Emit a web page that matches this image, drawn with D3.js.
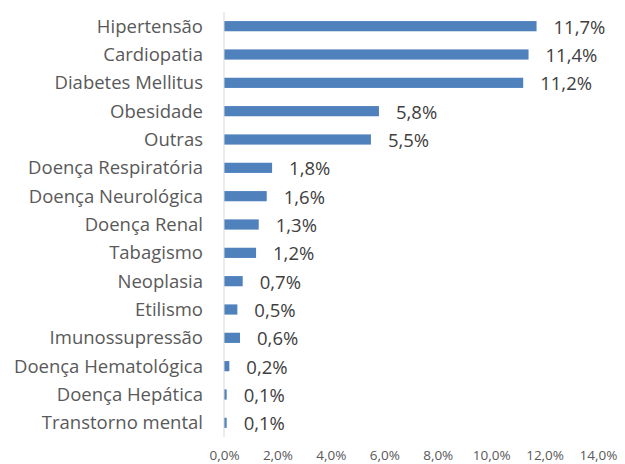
<!DOCTYPE html>
<html>
<head>
<meta charset="utf-8">
<script src="https://cdn.jsdelivr.net/npm/d3@7"></script>
<style>
  body { margin: 0; background: #fff; }
  text { font-family: "Open Sans", sans-serif; }
</style>
</head>
<body>
<div id="chart"></div>
<script>
// comorbidades (%)
var categories = ["Hipertensão", "Cardiopatia", "Diabetes Mellitus", "Obesidade", "Outras",
	"Doença Respiratória", "Doença Neurológica", "Doença Renal", "Tabagismo", "Neoplasia",
	"Etilismo", "Imunossupressão", "Doença Hematológica", "Doença Hepática", "Transtorno mental"];
var values = [11.7, 11.4, 11.2, 5.8, 5.5, 1.8, 1.6, 1.3, 1.2, 0.7, 0.5, 0.6, 0.2, 0.1, 0.1];
var tickValues = [0, 2, 4, 6, 8, 10, 12, 14];

var width = 625, height = 464;

var svg = d3.select("#chart")
	.append("svg")
	.attr("width", width)
	.attr("height", height);

var x = d3.scaleLinear().domain([0, 14]).range([224, 598]);
var y = d3.scaleBand().domain(categories).range([12, 437])
	.paddingInner(0.64).paddingOuter(0.32);

var fmt = function(v, d) { return v.toFixed(d).replace(".", ",") + "%"; };

// bars
svg.selectAll(".bar")
	.data(values)
	.enter().append("rect")
	.attr("class", "bar")
	.attr("x", x(0))
	.attr("y", function(d, i) { return y(categories[i]); })
	.attr("width", function(d) { return x(d) - x(0); })
	.attr("height", y.bandwidth())
	.style("fill", "#4f81bd");

// vertical axis line
svg.append("line")
	.attr("x1", x(0)).attr("x2", x(0))
	.attr("y1", 12).attr("y2", 437)
	.style("stroke", "#d9d9d9")
	.style("stroke-width", 1);

// category labels
svg.selectAll(".cat")
	.data(categories)
	.enter().append("text")
	.attr("class", "cat")
	.attr("x", 203)
	.attr("y", function(d) { return y(d) + y.bandwidth() / 2; })
	.attr("dy", "0.35em")
	.attr("text-anchor", "end")
	.style("font-size", "18.5px")
	.style("fill", "#595959")
	.text(function(d) { return d; });

// value labels
svg.selectAll(".val")
	.data(values)
	.enter().append("text")
	.attr("class", "val")
	.attr("x", function(d) { return x(d) + 17; })
	.attr("y", function(d, i) { return y(categories[i]) + y.bandwidth() / 2; })
	.attr("dy", "0.4em")
	.style("font-size", "18.5px")
	.style("fill", "#404040")
	.text(function(d) { return fmt(d, 1); });

// x axis
var xAxis = d3.axisBottom(x)
	.tickValues(tickValues)
	.tickSize(0)
	.tickPadding(0)
	.tickFormat(function(d) { return fmt(d, 1); });

var gx = svg.append("g")
	.attr("transform", "translate(0,450)")
	.call(xAxis);
gx.select(".domain").remove();
gx.selectAll("text")
	.attr("dy", "0.35em")
	.attr("y", 5)
	.style("font-family", "'Open Sans', sans-serif")
	.style("font-size", "13.5px")
	.style("fill", "#595959");
</script>
</body>
</html>
